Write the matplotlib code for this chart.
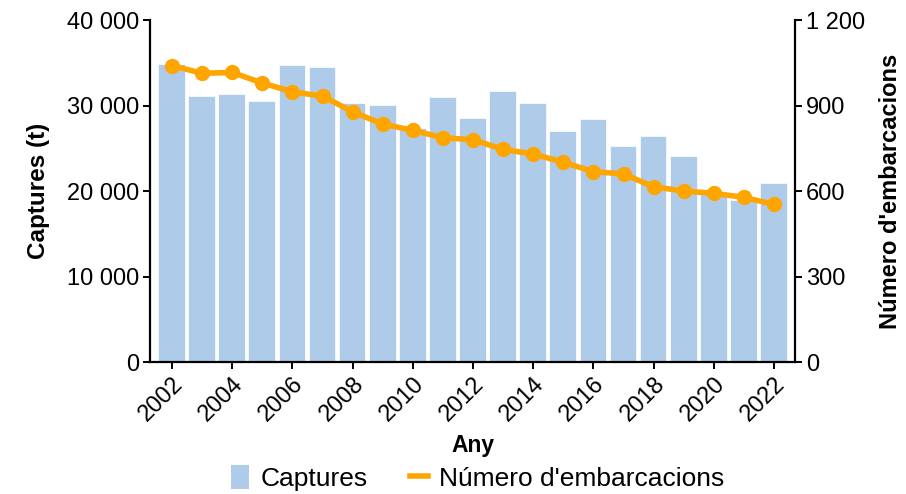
import numpy as np
import matplotlib
matplotlib.use("Agg")
import matplotlib.pyplot as plt
from matplotlib.ticker import FuncFormatter
from matplotlib.lines import Line2D
from matplotlib.patches import Patch

plt.rcParams['font.family'] = ['Liberation Sans', 'DejaVu Sans']

years = np.arange(2002, 2023)
captures = [34900, 31100, 31300, 30500, 34700, 34500, 30300, 30050, 27400, 31000, 28500,
            31700, 30300, 27050, 28400, 25300, 26400, 24100, 19700, 18900, 20900]
boats = [1040, 1013, 1016, 979, 948, 933, 878, 835, 813, 787, 780,
         746, 730, 701, 668, 660, 615, 600, 592, 578, 553]
year_ticks = np.arange(2002, 2023, 2)

bar_color = '#aecbea'
line_color = '#ffa500'


def space_thousands(v, pos):
    return f"{int(round(v)):,}".replace(",", " ")


fig = plt.figure(figsize=(9.06, 4.94), dpi=100)
ax = fig.add_axes([0.1656, 0.267, 0.712, 0.6925])
ax2 = ax.twinx()

ax.bar(years, captures, width=0.92, color=bar_color, edgecolor='white', linewidth=1.2, zorder=2)
ax2.plot(years, boats, color=line_color, linewidth=4, marker='o', markersize=10, zorder=3)

ax.set_xlim(2001.27, 2022.7)
ax.set_ylim(0, 40000)
ax2.set_ylim(0, 1200)
ax.set_yticks([0, 10000, 20000, 30000, 40000])
ax2.set_yticks([0, 300, 600, 900, 1200])
ax.yaxis.set_major_formatter(FuncFormatter(space_thousands))
ax2.yaxis.set_major_formatter(FuncFormatter(space_thousands))

ax.set_xticks(year_ticks)
ax.set_xticklabels([str(y) for y in year_ticks], rotation=45, ha='right', rotation_mode='anchor')

for a in (ax, ax2):
    a.spines['top'].set_visible(False)
    for s in ('left', 'bottom', 'right'):
        a.spines[s].set_linewidth(1.6)
    a.tick_params(width=1.4, length=5, labelsize=17, colors='black', pad=3)
ax.spines['right'].set_visible(False)
ax2.spines['left'].set_visible(False)
ax2.spines['bottom'].set_visible(False)

ax.set_xlabel('Any', fontsize=16.5, fontweight='bold', labelpad=6)
ax.set_ylabel('Captures (t)', fontsize=17.5, fontweight='bold', labelpad=12)
ax2.set_ylabel("Número d'embarcacions", fontsize=17, fontweight='bold', labelpad=10)

handles = [Patch(facecolor=bar_color, edgecolor='none'),
           Line2D([0], [0], color=line_color, linewidth=4)]
fig.legend(handles, ['Captures', "Número d'embarcacions"], loc='center',
           bbox_to_anchor=(0.527, 0.032), ncol=2, frameon=False, fontsize=19,
           handlelength=0.7, handleheight=1.0, columnspacing=1.6, handletextpad=0.42)

fig.savefig('out.png', dpi=100)
